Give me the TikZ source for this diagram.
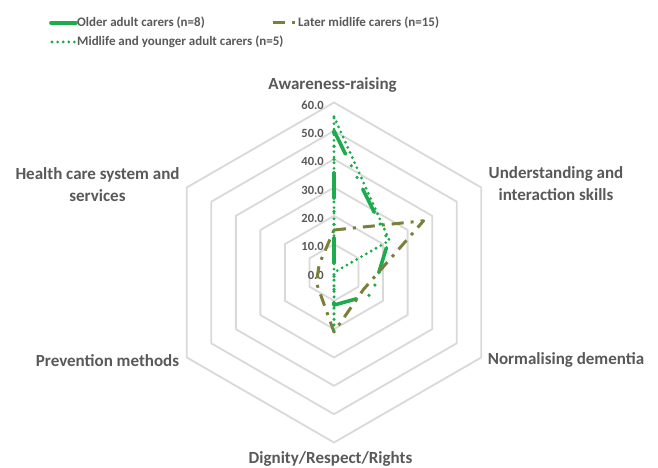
\documentclass[tikz,border=0pt]{standalone}
\usepackage{fontspec}
\setmainfont{Carlito}
\definecolor{txtgray}{RGB}{89,89,89}
\definecolor{gridgray}{RGB}{217,217,217}
\definecolor{cgreen}{RGB}{28,172,78}
\definecolor{colive}{RGB}{122,128,58}
\begin{document}
\begin{tikzpicture}[x=1pt,y=1pt,
  gridline/.style={draw=gridgray, line width=1.8pt, line join=round},
  catlabel/.style={font=\fontsize{17}{22}\selectfont\bfseries, text=txtgray, align=center, inner sep=0pt},
  ticklabel/.style={font=\fontsize{12.5}{14}\selectfont\bfseries, text=txtgray, anchor=east, inner sep=0pt},
  legtext/.style={font=\fontsize{13}{14}\selectfont\bfseries, text=txtgray, anchor=west, inner sep=0pt},
  older/.style={draw=cgreen, line width=3.6pt, line cap=round, line join=round, dash pattern=on 26pt off 13pt on 0pt off 13pt on 0pt off 13pt},
  later/.style={draw=colive, line width=3pt, line join=round, dash pattern=on 12pt off 7pt on 3pt off 7pt},
  midlife/.style={draw=cgreen, line width=3.1pt, line cap=round, line join=round, dash pattern=on 0pt off 5.6pt}]
\useasboundingbox[fill=white] (0,0) rectangle (658,468);
\def\unitr{2.8333}
\begin{scope}[shift={(334,195.5)}]
  % grid rings
  \foreach \k in {1,...,6}{
    \draw[gridline] (90:{\k*10*\unitr}) -- (30:{\k*10*\unitr}) -- (-30:{\k*10*\unitr}) -- (-90:{\k*10*\unitr}) -- (-150:{\k*10*\unitr}) -- (150:{\k*10*\unitr}) -- cycle;
  }
  % tick labels
  \foreach \k/\lab in {0/0.0,1/10.0,2/20.0,3/30.0,4/40.0,5/50.0,6/60.0}{
    \node[ticklabel] (tick\k) at (-10,{\k*10*\unitr-2.5}) {\lab};
  }
  % category labels
  \node[catlabel] (catA) at (-1.5,187.5) {Awareness-raising};
  \node[catlabel] (catU) at (222,88.5) {Understanding and\\interaction skills};
  \node[catlabel] (catN) at (232,-87.5) {Normalising dementia};
  \node[catlabel] (catD) at (-3.5,-186.5) {Dignity/Respect/Rights};
  \node[catlabel] (catP) at (-226.5,-88.5) {Prevention methods};
  \node[catlabel] (catH) at (-236.5,87.5) {Health care system and\\services};
  % data points: Older adult carers
  \coordinate (oA) at (90:{50*\unitr});
  \coordinate (oU) at (30:{22.2*\unitr});
  \coordinate (oN) at (-30:{15.5*\unitr});
  \coordinate (oD) at (-90:{11.5*\unitr});
  \coordinate (oP) at (0,0);
  \coordinate (oH) at (0,0);
  % Later midlife carers
  \coordinate (lA) at (90:{15*\unitr});
  \coordinate (lU) at (30:{36.5*\unitr});
  \coordinate (lN) at (-30:{12*\unitr});
  \coordinate (lD) at (-90:{21*\unitr});
  \coordinate (lP) at (-150:{7.2*\unitr});
  \coordinate (lH) at (150:{6*\unitr});
  % Midlife and younger adult carers
  \coordinate (mA) at (90:{55*\unitr});
  \coordinate (mU) at (30:{22.6*\unitr});
  \coordinate (mN) at (0,0);
  \coordinate (mD) at (-90:{20.5*\unitr});
  \coordinate (mP) at (0,0);
  \coordinate (mH) at (0,0);
  \draw[older] (oA) -- (oU) -- (oN) -- (oD) -- (oP) -- (oH) -- cycle;
  \draw[later] (lA) -- (lU) -- (lN) -- (lD) -- (lP) -- (lH) -- cycle;
  \draw[midlife] (mA) -- (mU) -- (mN) -- (mD) -- (mP) -- (mH) -- cycle;
\end{scope}
% legend
\coordinate (lg1a) at (51,445);
\coordinate (lg1b) at (76,445);
\draw[older] (lg1a) -- (lg1b);
\node[legtext] (lt1) at (77,445) {Older adult carers (n=8)};
\coordinate (lg2a) at (273,445);
\coordinate (lg2b) at (295,445);
\draw[later] (lg2a) -- (lg2b);
\node[legtext] (lt2) at (298,445) {Later midlife carers (n=15)};
\coordinate (lg3a) at (52,426);
\coordinate (lg3b) at (74.5,426);
\draw[midlife] (lg3a) -- (lg3b);
\node[legtext] (lt3) at (77,426) {Midlife and younger adult carers (n=5)};
\end{tikzpicture}
\end{document}
